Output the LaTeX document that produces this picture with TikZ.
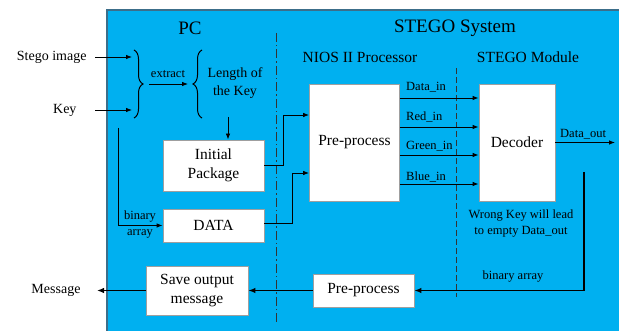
\documentclass[tikz,border=0pt]{standalone}
\usepackage{fontspec}
\setmainfont{Liberation Serif}
\usetikzlibrary{arrows.meta,decorations.pathreplacing}
\definecolor{skyblue}{HTML}{00B0F0}
\definecolor{frame}{HTML}{3C6E8A}
\begin{document}
\begin{tikzpicture}[x=1pt,y={(0pt,-1pt)},
  box/.style={draw=gray!75, fill=white, line width=0.8pt, align=center, inner sep=0pt,
    font=\fontsize{15.5}{19.5}\selectfont},
  arr/.style={-{Latex[length=6pt,width=4.5pt]}, line width=0.8pt},
  tarr/.style={-{Latex[length=7pt,width=5.5pt]}, line width=1.3pt},
  title/.style={font=\fontsize{19}{22}\selectfont},
  subtitle/.style={font=\fontsize{15.5}{18}\selectfont},
  outer/.style={font=\fontsize{14}{18}\selectfont, align=center},
  lbl/.style={font=\fontsize{12.5}{16}\selectfont, align=center, inner sep=0pt},
  bracestyle/.style={decorate, decoration={brace, amplitude=9pt}, line width=1pt}]
\useasboundingbox (0,0) rectangle (619,331);
% background panel
\fill[skyblue] (107,10) rectangle (619,331);
\draw[frame, line width=1.2pt] (107,331) -- (107,10) -- (619,10);

% titles
\node[title] (tpc) at (190,28) {PC};
\node[title] (tsys) at (455,28) {STEGO System};
\node[subtitle] (tnios) at (360,57) {NIOS II Processor};
\node[subtitle] (tmod) at (528,57) {STEGO Module};

% separators
\draw[black!80, line width=1pt, dash pattern=on 9pt off 3pt on 1.5pt off 3pt] (276,33) -- (276,323);
\draw[black!80, line width=1pt, dash pattern=on 6pt off 3pt] (456,68) -- (456,297);

% inputs
\node[outer, anchor=east] (si) at (90,57) {Stego image};
\node[outer, anchor=east] (key) at (80,110) {Key};
\coordinate (siend) at (132,57);
\coordinate (keyend) at (132,110);
\coordinate (keystart) at (95,110);
\coordinate (sistart) at (95,57);
\draw[arr] (sistart) -- (siend);
\draw[arr] (keystart) -- (keyend);

% braces
\coordinate (b1a) at (134,50);
\coordinate (b1b) at (134,118);
\draw[bracestyle] (b1a) -- (b1b);
\coordinate (b2a) at (202,118);
\coordinate (b2b) at (202,50);
\draw[bracestyle] (b2a) -- (b2b);
\coordinate (ex1) at (149,84);
\coordinate (ex2) at (188,84);
\draw[arr] (ex1) -- (ex2);
\node[lbl] (extract) at (168,74) {extract};
\node[outer, font=\fontsize{14}{18}\selectfont] (lk) at (235,83) {Length of\\the Key};
\coordinate (kd) at (228,117);

% PC boxes
\node[box, minimum width=101pt, minimum height=51pt] (ip) at (213.5,165.5) {Initial\\Package};
\node[box, minimum width=101pt, minimum height=33pt] (data) at (213.5,225.5) {DATA};
\draw[arr] (kd) -- (kd |- ip.north) ;
\coordinate (kv) at (118,128);
\draw[arr] (kv) |- (data.west);
\node[lbl] (ba1) at (140,225) {binary\\array};

% NIOS / STEGO boxes
\node[box, minimum width=90pt, minimum height=117pt] (pp) at (354.5,142.5) {Pre-process};
\node[box, minimum width=76pt, minimum height=117pt] (dec) at (517,142.5) {Decoder};

\draw[arr] (ip.east) -- ++(19,0) |- ([yshift=27.5pt]pp.west);
\draw[arr] ([yshift=2.5pt]data.east) -- ++(28,0) |- ([yshift=-30.5pt]pp.west);

\draw[arr] ([yshift=44.5pt]pp.east) -- ([yshift=44.5pt]dec.west);
\draw[arr] ([yshift=15.5pt]pp.east) -- ([yshift=15.5pt]dec.west);
\draw[arr] ([yshift=-12.5pt]pp.east) -- ([yshift=-12.5pt]dec.west);
\draw[arr] ([yshift=-41.5pt]pp.east) -- ([yshift=-41.5pt]dec.west);
\node[lbl, anchor=west] (l1) at (406,87) {Data\_in};
\node[lbl, anchor=west] (l2) at (406,117) {Red\_in};
\node[lbl, anchor=west] (l3) at (406,146) {Green\_in};
\node[lbl, anchor=west] (l4) at (406,177) {Blue\_in};

\coordinate (dout) at (615,142.5);
\draw[arr] (dec.east) -- (dout);
\node[lbl, anchor=west] (dol) at (560,134) {Data\_out};

\node[lbl] (wk) at (521,223.5) {Wrong Key will lead\\to empty Data\_out};

% bottom row
\node[box, minimum width=101pt, minimum height=33pt] (pp2) at (363.5,290.5) {Pre-process};
\node[box, minimum width=102pt, minimum height=49pt] (save) at (197,290.5) {Save output\\message};
\coordinate (rv) at (584,172);
\draw[tarr] (rv) |- (pp2.east);
\node[lbl] (ba2) at (513,277) {binary array};
\draw[tarr] (pp2.west) -- (save.east);
\node[outer, anchor=east] (msg) at (84,290.5) {Message};
\coordinate (msgend) at (97,290.5);
\draw[tarr] (save.west) -- (msgend);
\end{tikzpicture}
\end{document}
